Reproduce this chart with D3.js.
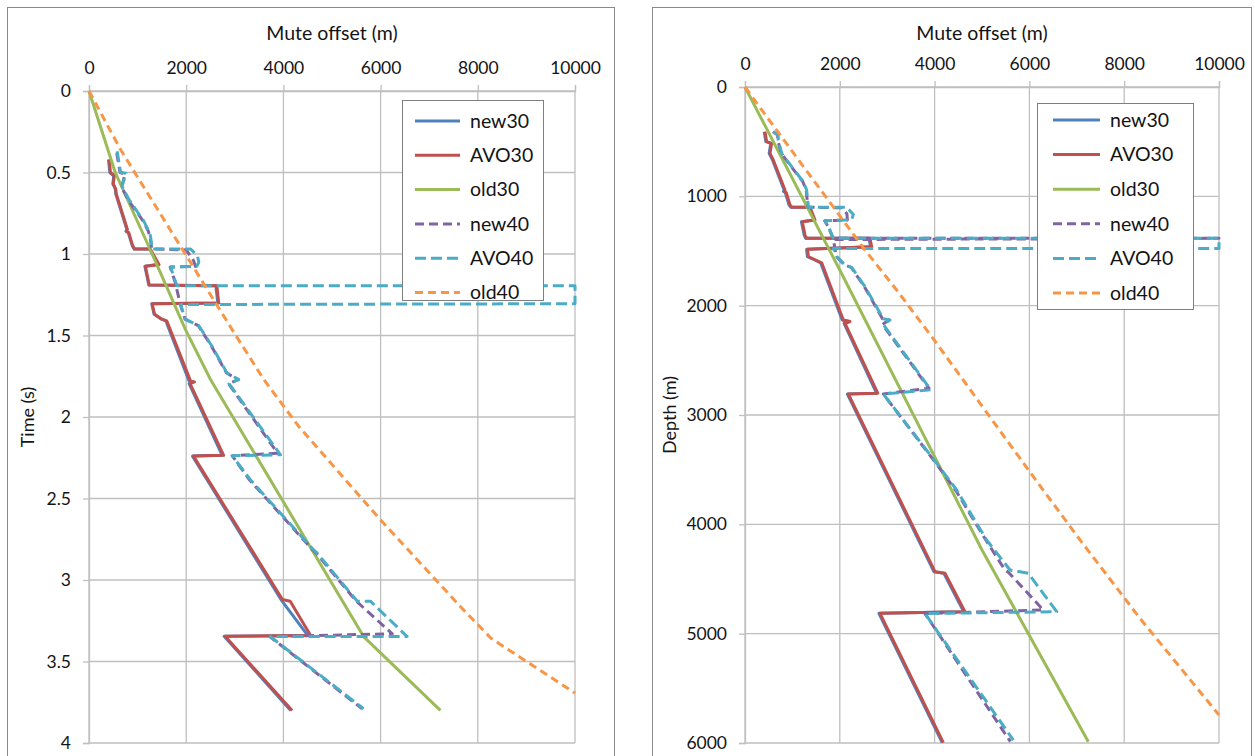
<!DOCTYPE html>
<html><head><meta charset="utf-8">
<script src="https://cdn.jsdelivr.net/npm/d3@7"></script>
<style>
body{margin:0;background:#fff;}
svg text{font-family:Lato,"Open Sans",sans-serif;fill:#141414;}
</style></head><body>
<svg id="chart" width="1255" height="756"></svg>
<script>
// ---------- DATA ----------
const seriesNames = ["new30","AVO30","old30","new40","AVO40","old40"];
const offsetTicks = [0,2000,4000,6000,8000,10000];
const timeTicks = [0,0.5,1,1.5,2,2.5,3,3.5,4];
const depthTicks = [0,1000,2000,3000,4000,5000,6000];

// Left panel: [mute offset (m), time (s)]
const timeNew30 = [[400,0.42],[430,0.50],[510,0.52],[490,0.57],[540,0.60],[550,0.63],[780,0.85],[760,0.86],[810,0.87],[890,0.95],[930,0.97],[1250,0.97],[1420,1.065],[1150,1.075],[1230,1.19],[2610,1.195],[2650,1.30],[1290,1.305],[1340,1.37],[1490,1.40],[1580,1.41],[2060,1.78],[2150,1.785],[2060,1.795],[2740,2.235],[2130,2.24],[3950,3.12],[4500,3.34],[2780,3.345],[4150,3.80]];
const timeAVO30 = [[420,0.42],[440,0.50],[520,0.52],[500,0.57],[550,0.60],[560,0.63],[790,0.85],[770,0.86],[820,0.87],[900,0.95],[940,0.97],[1260,0.97],[1440,1.065],[1160,1.075],[1240,1.19],[2630,1.195],[2670,1.30],[1300,1.305],[1350,1.37],[1500,1.40],[1600,1.41],[2090,1.78],[2170,1.785],[2080,1.795],[2770,2.235],[2150,2.24],[3980,3.12],[4140,3.13],[4560,3.34],[2800,3.345],[4180,3.80]];
const timeOld30 = [[0,0],[540,0.5],[1300,1.0],[1985,1.464],[2500,1.77],[5650,3.347],[7230,3.80]];
const timeNew40 = [[570,0.38],[640,0.50],[740,0.51],[670,0.59],[810,0.67],[1120,0.80],[1220,0.86],[1260,0.90],[1290,0.969],[2000,0.975],[2150,1.04],[2190,1.075],[1670,1.08],[1770,1.17],[1880,1.31],[1975,1.40],[2250,1.44],[2520,1.566],[2830,1.73],[3070,1.77],[2870,1.795],[3880,2.222],[2945,2.237],[3300,2.385],[4600,2.815],[4660,2.83],[5500,3.13],[6240,3.33],[3720,3.347],[5620,3.79]];
const timeAVO40 = [[580,0.37],[650,0.50],[760,0.505],[680,0.585],[820,0.665],[1130,0.80],[1230,0.86],[1265,0.89],[1300,0.969],[2090,0.969],[2230,1.01],[2260,1.05],[2220,1.075],[1680,1.08],[1780,1.17],[1810,1.195],[10000,1.195],[10000,1.305],[1880,1.31],[1985,1.40],[2260,1.44],[2530,1.566],[2840,1.73],[3080,1.77],[2880,1.795],[3940,2.232],[2945,2.237],[3320,2.385],[4620,2.815],[4680,2.83],[5520,3.13],[5790,3.13],[6545,3.347],[3730,3.347],[5650,3.79]];
const timeOld40 = [[0,0],[650,0.36],[2945,1.464],[3596,1.77],[4315,2.058],[5995,2.63],[7641,3.163],[8270,3.357],[10000,3.694]];

// Right panel: [mute offset (m), depth (m)]
const depthNew30 = [[405,409],[440,500],[545,515],[510,607],[580,668],[825,942],[812,955],[850,965],[930,1079],[970,1100],[1350,1100],[1455,1216],[1190,1232],[1248,1354],[1280,1384],[2615,1384],[2650,1461],[1300,1484],[1316,1552],[1460,1580],[1595,1608],[2050,2131],[2190,2145],[2090,2163],[2775,2800],[2160,2808],[3985,4433],[4195,4448],[4615,4799],[2825,4814],[4160,5997]];
const depthAVO30 = [[422,409],[457,500],[562,515],[527,607],[597,668],[844,942],[830,955],[870,965],[949,1079],[990,1100],[1371,1100],[1477,1216],[1209,1232],[1266,1354],[1300,1384],[2637,1384],[2672,1461],[1322,1484],[1336,1552],[1480,1580],[1618,1608],[2074,2131],[2215,2145],[2110,2163],[2800,2800],[2179,2808],[4008,4433],[4219,4448],[4641,4799],[2848,4814],[4184,5997]];
const depthOld30 = [[0,0],[2000,1674],[5000,4235],[7243,5988]];
const depthNew40 = [[590,409],[690,440],[690,485],[765,607],[975,729],[1220,866],[1290,942],[1326,1095],[1330,1100],[2050,1105],[2150,1160],[2160,1216],[1680,1223],[1750,1274],[1860,1384],[10000,1384],[1864,1395],[1930,1552],[2100,1628],[2240,1650],[2520,1827],[2900,2120],[3040,2131],[2900,2172],[3880,2755],[2918,2808],[4030,3442],[4440,3686],[5080,4143],[5485,4418],[5560,4440],[6293,4783],[3797,4816],[5600,5988]];
const depthAVO40 = [[600,409],[700,440],[700,485],[774,607],[985,729],[1230,866],[1300,942],[1336,1095],[1336,1100],[2145,1100],[2285,1166],[2250,1216],[1688,1223],[1758,1274],[1864,1384],[10000,1384],[10000,1476],[1864,1476],[1934,1552],[2110,1628],[2250,1650],[2532,1827],[2918,2120],[3059,2131],[2918,2172],[3920,2770],[2918,2808],[4044,3442],[4466,3686],[5097,4143],[5591,4418],[5977,4448],[6576,4799],[3797,4816],[5660,5973]];
const depthOld40 = [[0,0],[352,210],[2532,1491],[3200,1857],[4044,2345],[4958,2893],[6083,3564],[7068,4143],[8333,4860],[10000,5744]];

// ---------- STYLE ----------
const colors = ["#4F81BD","#C0504D","#9BBB59","#8064A2","#4BACC6","#F79646"];
const dashes = [null,null,null,"9,5","11,5","8,5"];

const svg = d3.select("#chart");

function drawPanel(cfg){
  const g = svg.append("g");
  g.append("rect").attr("x",cfg.frame[0]+0.5).attr("y",7.5)
    .attr("width",cfg.frame[1]-cfg.frame[0]).attr("height",800)
    .attr("fill","#fff").attr("stroke","#8a8a8a").attr("stroke-width",1);

  const x = d3.scaleLinear().domain([0,10000]).range(cfg.xr);
  const y = d3.scaleLinear().domain(cfg.ydom).range(cfg.yr);

  g.append("g").selectAll("line").data(offsetTicks).join("line")
    .attr("x1",d=>x(d)).attr("x2",d=>x(d)).attr("y1",cfg.yr[0]).attr("y2",cfg.yr[1])
    .attr("stroke","#bfbfbf").attr("stroke-width",1.3);
  g.append("g").selectAll("line").data(cfg.yticks).join("line")
    .attr("y1",d=>y(d)).attr("y2",d=>y(d)).attr("x1",cfg.xr[0]).attr("x2",cfg.xr[1])
    .attr("stroke","#bfbfbf").attr("stroke-width",1.3);

  const ax = g.append("g").attr("transform",`translate(0,${cfg.yr[0]})`)
    .call(d3.axisTop(x).tickValues(offsetTicks).tickFormat(d=>String(d)).tickSize(6).tickPadding(11));
  const ay = g.append("g").attr("transform",`translate(${cfg.xr[0]},0)`)
    .call(d3.axisLeft(y).tickValues(cfg.yticks).tickFormat(d=>String(d)).tickSize(6).tickPadding(12));
  [ax,ay].forEach(a=>{
    a.select(".domain").attr("stroke","#bfbfbf").attr("stroke-width",1.3);
    a.selectAll(".tick line").attr("stroke","#bfbfbf").attr("stroke-width",1.3);
    a.selectAll(".tick text").attr("font-size",17.5).attr("font-family","Lato,sans-serif").attr("fill","#141414");
  });

  g.append("text").attr("x",(cfg.xr[0]+cfg.xr[1])/2).attr("y",40).attr("text-anchor","middle")
    .attr("font-size",19.5).text("Mute offset (m)");
  g.append("text").attr("transform",`translate(${cfg.ytitleX},${cfg.ytitleY}) rotate(-90)`)
    .attr("text-anchor","middle").attr("font-size",18).text(cfg.ytitle);

  const cid = "clip"+cfg.id;
  svg.append("clipPath").attr("id",cid).append("rect")
    .attr("x",cfg.xr[0]-2).attr("y",cfg.yr[0]-2)
    .attr("width",cfg.xr[1]-cfg.xr[0]+4).attr("height",cfg.yr[1]-cfg.yr[0]+4);

  const line = d3.line().x(d=>x(d[0])).y(d=>y(d[1]));
  const lg = g.append("g").attr("clip-path",`url(#${cid})`);
  cfg.series.forEach((s,i)=>{
    lg.append("path").attr("d",line(s)).attr("fill","none")
      .attr("stroke",colors[i]).attr("stroke-width",3)
      .attr("stroke-dasharray",dashes[i]).attr("stroke-linejoin","round");
  });

  const L = cfg.legend;
  g.append("rect").attr("x",L.x+0.5).attr("y",L.y+0.5).attr("width",L.w).attr("height",L.h)
    .attr("fill","#fff").attr("stroke","#7f7f7f").attr("stroke-width",1);
  seriesNames.forEach((n,i)=>{
    const yy = L.y + L.first + i*L.step;
    g.append("line").attr("x1",L.x+L.l1).attr("x2",L.x+L.l2).attr("y1",yy).attr("y2",yy)
      .attr("stroke",colors[i]).attr("stroke-width",3).attr("stroke-dasharray",dashes[i]);
    g.append("text").attr("x",L.x+L.tx).attr("y",yy).attr("dy","0.35em")
      .attr("font-size",19.5).text(n);
  });
}

drawPanel({id:"L", frame:[7,614], xr:[89,575], yr:[91,743], ydom:[0,4], yticks:timeTicks,
  ytitle:"Time (s)", ytitleX:34, ytitleY:417,
  series:[timeNew30,timeAVO30,timeOld30,timeNew40,timeAVO40,timeOld40],
  legend:{x:402,y:100,w:141,h:200,first:21,step:34.3,l1:13,l2:58,tx:68}});
drawPanel({id:"R", frame:[652,1251], xr:[745,1219], yr:[87,743], ydom:[0,6000], yticks:depthTicks,
  ytitle:"Depth (m)", ytitleX:676, ytitleY:415,
  series:[depthNew30,depthAVO30,depthOld30,depthNew40,depthAVO40,depthOld40],
  legend:{x:1037,y:103,w:156,h:206,first:17,step:34.6,l1:16,l2:63,tx:73}});
</script>
</body></html>
